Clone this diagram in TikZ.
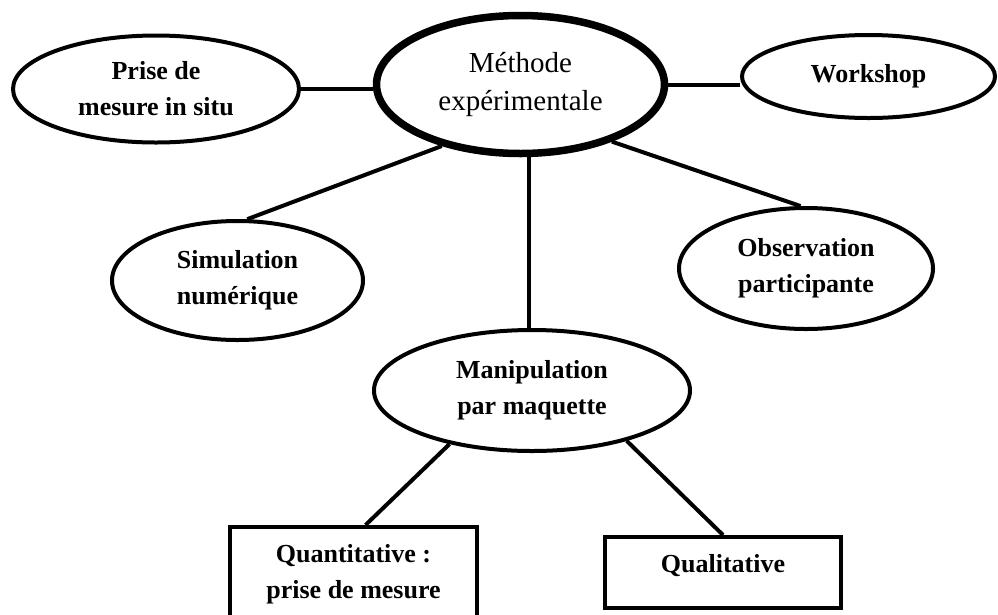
\documentclass[tikz,border=0pt]{standalone}
\usepackage{fontspec}
\setmainfont{Liberation Serif}
\usetikzlibrary{shapes.geometric}
\begin{document}
\begin{tikzpicture}[x=1pt,y=-1pt,
  oval/.style={ellipse, draw, line width=4pt, inner sep=0pt, align=center,
    font=\fontsize{26}{36}\selectfont\bfseries},
  mainoval/.style={ellipse, draw, line width=7.5pt, inner sep=0pt, align=center,
    font=\fontsize{29}{38}\selectfont},
  box/.style={rectangle, draw, line width=4pt, inner sep=0pt},
  lbl/.style={inner sep=0pt, align=center, font=\fontsize{26}{36}\selectfont\bfseries},
  link/.style={line width=4pt}]
\useasboundingbox (0,0) rectangle (998,614);
\clip (0,0) rectangle (998,614);
\fill[white] (0,0) rectangle (998,614);

\node[mainoval, minimum width=288pt, minimum height=138pt] (central) at (520.5,84.5) {Méthode\\expérimentale};
\node[oval, minimum width=286pt, minimum height=107pt] (prise) at (156,89) {Prise de\\mesure in situ};
\node[oval, minimum width=253pt, minimum height=83pt] (workshop) at (868.5,76.5) {Workshop};
\node[oval, minimum width=251pt, minimum height=119pt] (simul) at (237.5,280.5) {Simulation\\numérique};
\node[oval, minimum width=254pt, minimum height=121pt] (observ) at (806,268.5) {Observation\\participante};
\node[oval, minimum width=316pt, minimum height=121pt] (manip) at (532,390.5) {Manipulation\\par maquette};

\node[box, minimum width=247pt, minimum height=120pt] (quant) at (353.5,587) {};
\node[lbl] (quantlabel) at (353.5,574.5) {Quantitative :\\prise de mesure};
\node[box, minimum width=236pt, minimum height=71pt] (qual) at (723,572.5) {};
\node[lbl, anchor=base] (quallabel) at (723,572) {Qualitative};

\draw[link] (prise.east) -- (prise.east -| central.west);
\draw[link] (central.east) -- (central.east -| workshop.west);
\draw[link] (central.218) -- (simul.81);
\draw[link] (central.328) -- (observ.95);
\draw[link] (manip.93) -- (manip.93 |- central.south);
\draw[link] (manip.213) -- (quant.79);
\draw[link] (manip.332) -- (qual.north);
\end{tikzpicture}
\end{document}
